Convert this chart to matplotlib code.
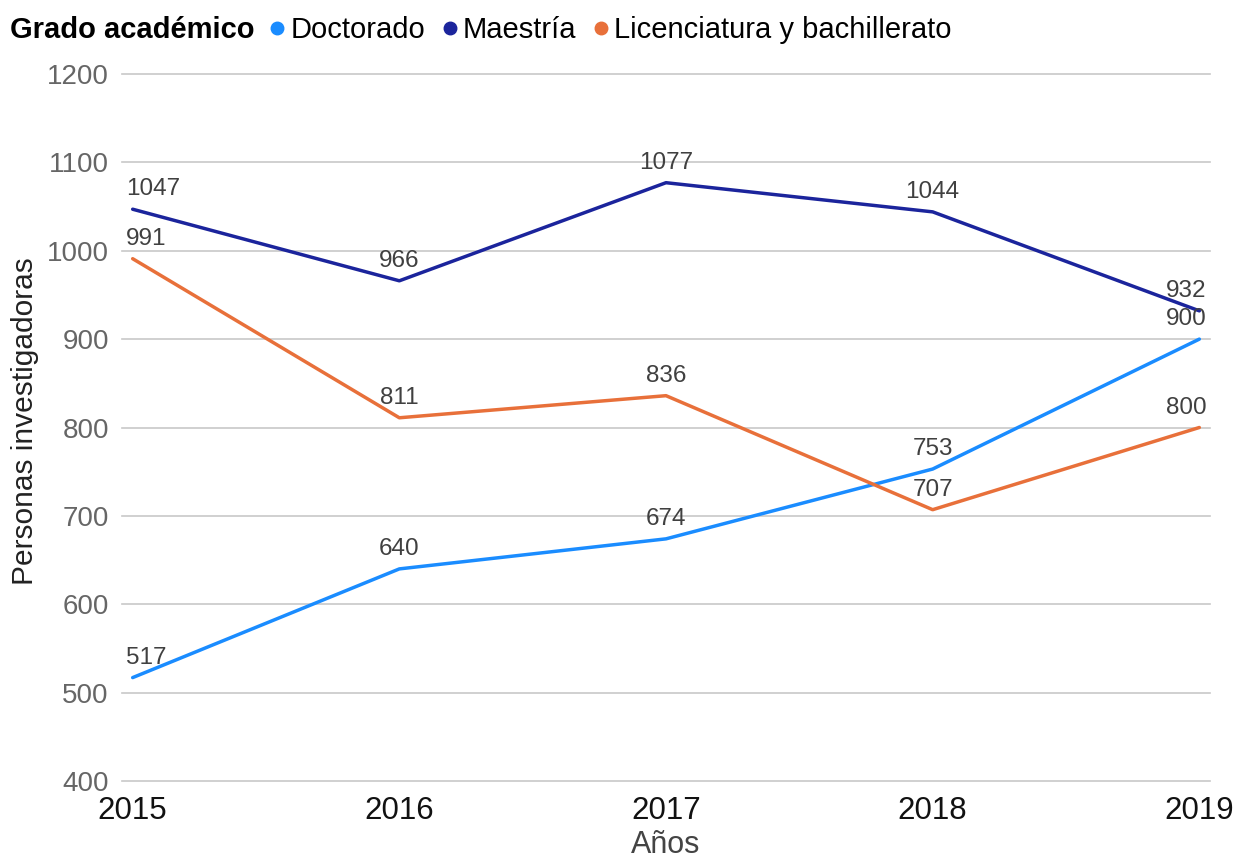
import matplotlib
matplotlib.use("Agg")
import matplotlib.pyplot as plt
from matplotlib.lines import Line2D

years = [2015, 2016, 2017, 2018, 2019]
doctorado = [517, 640, 674, 753, 900]
maestria = [1047, 966, 1077, 1044, 932]
licenciatura = [991, 811, 836, 707, 800]
series_names = ["Doctorado", "Maestría", "Licenciatura y bachillerato"]
colors = ["#1a8cff", "#1b249c", "#e8703a"]
yticks = [400, 500, 600, 700, 800, 900, 1000, 1100, 1200]

plt.rcParams['font.family'] = ['Liberation Sans', 'DejaVu Sans']

fig = plt.figure(figsize=(12.37, 8.61), dpi=100)
ax = fig.add_axes([122/1237, 1-781/861, (1210-122)/1237, (781-74)/861])

series = [doctorado, maestria, licenciatura]
for vals, col in zip(series, colors):
    ax.plot(years, vals, color=col, lw=2.5, solid_capstyle='round', zorder=3)
    for i, (x, y) in enumerate(zip(years, vals)):
        if i == 0:
            ha, dx = 'left', -7
        elif i == len(years) - 1:
            ha, dx = 'right', 7
        else:
            ha, dx = 'center', 0
        ax.annotate(str(y), (x, y), xytext=(dx, 9), textcoords='offset pixels',
                    ha=ha, va='bottom', fontsize=17.5, color='#404040', zorder=4)

ax.set_xlim(2014.96, 2019.04)
ax.set_ylim(400, 1200)
ax.set_yticks(yticks)
ax.set_xticks(years)
ax.set_xticklabels([str(y) for y in years])
ax.grid(axis='y', color='#c8c8c8', lw=1.2)
for gl in ax.get_ygridlines():
    gl.set_clip_on(False)
ax.set_axisbelow(True)
for s in ax.spines.values():
    s.set_visible(False)
ax.tick_params(axis='y', length=0, pad=9.5, labelsize=20, labelcolor='#666666')
ax.tick_params(axis='x', length=0, pad=11, labelsize=22.5, labelcolor='#111111')
ax.set_xlabel("Años", fontsize=22, color='#444444', labelpad=3)

fig.text(25/1237, 1-421/861, "Personas investigadoras", fontsize=21.5,
         color='#222222', rotation=90, ha='center', va='center')

fig.text(10/1237, 1-30/861, "Grado académico", fontsize=21, fontweight='bold',
         ha='left', va='center', color='#000000')
handles = [Line2D([], [], marker='o', ls='', color=c, markersize=9) for c in colors]
fig.legend(handles, series_names, loc='center left',
           bbox_to_anchor=(270/1237, 1-30/861), ncol=3, frameon=False,
           fontsize=21, handlelength=0.5, handletextpad=0.2, columnspacing=0.6,
           borderaxespad=0, borderpad=0)

fig.savefig("out.png", dpi=100)
